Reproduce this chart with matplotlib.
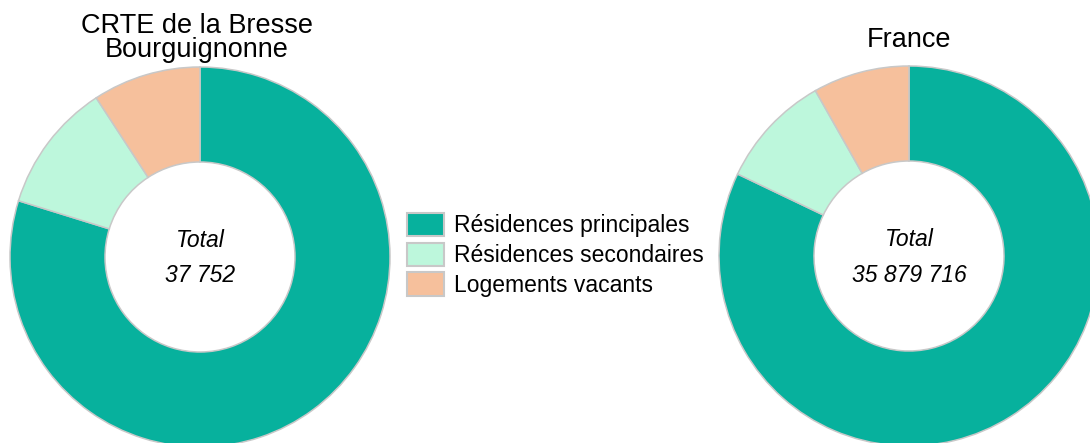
import matplotlib
matplotlib.use("Agg")
import matplotlib.pyplot as plt
from matplotlib.patches import Patch

plt.rcParams['font.family'] = ['Liberation Sans', 'DejaVu Sans']

categories = ["Résidences principales", "Résidences secondaires", "Logements vacants"]
colors = ["#07b19d", "#bdf7dc", "#f6c09c"]
edge = "#c8c8c8"

crte_title = "CRTE de la Bresse\nBourguignonne"
crte_values = [30120, 4160, 3472]

france_title = "France"
france_values = [29457247, 3480332, 2942137]


def fmt(n):
    return f"{n:,}".replace(",", " ")


# figure in pixel units, y up
W, H = 1090, 443
fig = plt.figure(figsize=(W / 100, H / 100), dpi=100)
ax = fig.add_axes([0, 0, 1, 1])

donuts = [
    (crte_values, (200, 186), crte_title, 197, 33),
    (france_values, (909, 187), france_title, 909, 47),
]

for values, center, title, tx, ty in donuts:
    ax.pie(values, colors=colors, startangle=90, counterclock=False,
           center=center, radius=190,
           wedgeprops=dict(width=95, edgecolor=edge, linewidth=1.1))
    ax.text(center[0], center[1] + 17, "Total", ha="center", va="center",
            fontsize=16.5, style="italic")
    ax.text(center[0], center[1] - 19, fmt(sum(values)), ha="center", va="center",
            fontsize=16.5, style="italic")
    # title lines, one baseline every 24 px
    for i, line in enumerate(title.split("\n")):
        ax.text(tx, H - ty - 24 * i, line, ha="center", va="baseline", fontsize=19.5)

ax.set_xlim(0, W)
ax.set_ylim(0, H)
ax.set_aspect("equal")
ax.axis("off")

handles = [Patch(facecolor=c, edgecolor=edge, linewidth=1.5) for c in colors]
fig.legend(handles, categories, loc="upper left",
           bbox_to_anchor=(407 / W, 1 - 213 / H), frameon=False,
           fontsize=16.5, handlelength=1.6, handleheight=1.2,
           handletextpad=0.45, labelspacing=0.22, borderpad=0, borderaxespad=0)

fig.savefig("out.png", dpi=100)
